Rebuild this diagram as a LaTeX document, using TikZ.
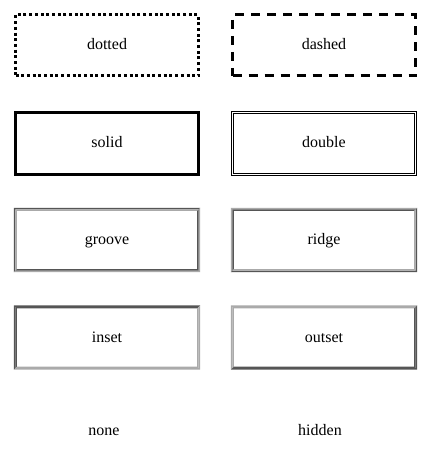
\documentclass[tikz,border=0pt]{standalone}
\usepackage{fontspec}
\setmainfont{Liberation Serif}
\definecolor{dk}{HTML}{555555}
\definecolor{lt}{HTML}{AAAAAA}
\newcommand\threedbox[5]{%
 \fill[#2] (#1.south west) -- (#1.north west) -- (#1.north east) -- ([shift={(-1.5pt,-1.5pt)}]#1.north east) -- ([shift={(1.5pt,-1.5pt)}]#1.north west) -- ([shift={(1.5pt,1.5pt)}]#1.south west) -- cycle;
 \fill[#3] ([shift={(1.5pt,1.5pt)}]#1.south west) -- ([shift={(1.5pt,-1.5pt)}]#1.north west) -- ([shift={(-1.5pt,-1.5pt)}]#1.north east) -- ([shift={(-3pt,-3pt)}]#1.north east) -- ([shift={(3pt,-3pt)}]#1.north west) -- ([shift={(3pt,3pt)}]#1.south west) -- cycle;
 \fill[#4] (#1.south west) -- (#1.south east) -- (#1.north east) -- ([shift={(-1.5pt,-1.5pt)}]#1.north east) -- ([shift={(-1.5pt,1.5pt)}]#1.south east) -- ([shift={(1.5pt,1.5pt)}]#1.south west) -- cycle;
 \fill[#5] ([shift={(1.5pt,1.5pt)}]#1.south west) -- ([shift={(-1.5pt,1.5pt)}]#1.south east) -- ([shift={(-1.5pt,-1.5pt)}]#1.north east) -- ([shift={(-3pt,-3pt)}]#1.north east) -- ([shift={(-3pt,3pt)}]#1.south east) -- ([shift={(3pt,3pt)}]#1.south west) -- cycle;
}
\begin{document}
\begin{tikzpicture}[x=1pt,y=-1pt,
  lbl/.style={font=\fontsize{16pt}{19pt}\selectfont, inner sep=0pt, text height=11.5pt, text depth=2.5pt},
  linebox/.style={lbl, minimum width=183pt, minimum height=61pt, line width=3pt},
  flatbox/.style={lbl, minimum width=186pt, minimum height=64pt},
  dottedbox/.style={linebox, draw, dash pattern=on 3pt off 2.7pt},
  dashedbox/.style={linebox, draw, dash pattern=on 9pt off 7pt},
  solidbox/.style={linebox, draw},
  doublebox/.style={lbl, minimum width=183pt, minimum height=61pt, draw, line width=1pt, double=white, double distance=1pt}]
\useasboundingbox[fill=white] (0,0) rectangle (425,465);
\node[dottedbox] (dotted) at (107,45.5) {dotted};
\node[dashedbox] (dashed) at (324,45.5) {dashed};
\node[solidbox] (solid) at (107,143.5) {solid};
\node[doublebox] (double) at (324,143.5) {double};
\node[flatbox] (groove) at (107,240) {groove};
\node[flatbox] (ridge) at (324,240) {ridge};
\node[flatbox] (inset) at (107,337.5) {inset};
\node[flatbox] (outset) at (324,337.5) {outset};
\node[lbl] (none) at (104,431) {none};
\node[lbl] (hidden) at (320,431) {hidden};
\threedbox{groove}{dk}{lt}{lt}{dk}
\threedbox{ridge}{lt}{dk}{dk}{lt}
\threedbox{inset}{dk}{dk}{lt}{lt}
\threedbox{outset}{lt}{lt}{dk}{dk}
\end{tikzpicture}
\end{document}
